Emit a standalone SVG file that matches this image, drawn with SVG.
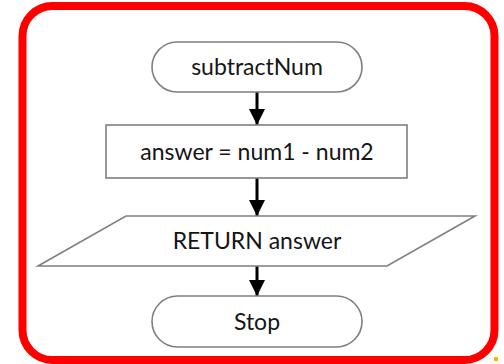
<svg xmlns="http://www.w3.org/2000/svg" width="504" height="364" viewBox="0 0 504 364">
<style>
.shape{fill:#fff;stroke:#7f7f7f;stroke-width:1.6}
.lbl{font-family:Lato,"Open Sans","Liberation Sans",sans-serif;font-size:23px;fill:#151515;text-anchor:middle}
.conn{stroke:#000;stroke-width:3;fill:none}
</style>
<defs>
<marker id="ah" viewBox="0 0 16 16" refX="16" refY="8" markerWidth="16" markerHeight="16" markerUnits="userSpaceOnUse" orient="auto">
<path d="M0,0 L16,8 L0,16 Z" fill="#000"/>
</marker>
</defs>
<rect width="504" height="364" fill="#fff"/>
<rect x="22.5" y="6" width="472" height="354" rx="30" fill="none" stroke="#ff0000" stroke-width="8"/>
<rect x="494" y="357" width="4" height="4" fill="#ffb000"/>
<g id="connectors">
<line class="conn" x1="257" y1="92" x2="257" y2="125" marker-end="url(#ah)"/>
<line class="conn" x1="257" y1="178" x2="257" y2="216" marker-end="url(#ah)"/>
<line class="conn" x1="257" y1="266" x2="257" y2="296" marker-end="url(#ah)"/>
</g>
<g id="start">
<rect class="shape" x="152" y="42" width="210" height="50" rx="25"/>
<text class="lbl" x="257" y="75">subtractNum</text>
</g>
<g id="process">
<rect class="shape" x="106" y="125" width="301" height="53"/>
<text class="lbl" x="257" y="160">answer = num1 - num2</text>
</g>
<g id="output">
<polygon class="shape" points="126,216 475,216 387,266 38,266"/>
<text class="lbl" x="257" y="249">RETURN answer</text>
</g>
<g id="stop">
<rect class="shape" x="152" y="296" width="210" height="51" rx="25.5"/>
<text class="lbl" x="257" y="330">Stop</text>
</g>
</svg>
